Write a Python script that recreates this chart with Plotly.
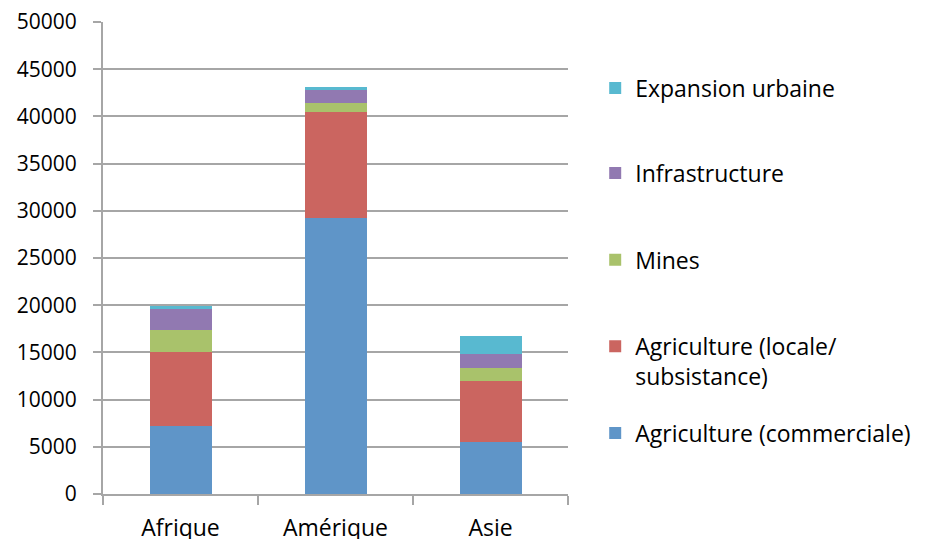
import plotly.graph_objects as go

categories = ["Afrique", "Amérique", "Asie"]
agri_commerciale = [7200, 29200, 5500]
agri_locale = [7870, 11300, 6450]
mines = [2300, 900, 1450]
infrastructure = [2230, 1440, 1410]
expansion_urbaine = [320, 250, 1980]

series_names = [
    "Agriculture (commerciale)",
    "Agriculture (locale/<br>subsistance)",
    "Mines",
    "Infrastructure",
    "Expansion urbaine",
]
series_values = [agri_commerciale, agri_locale, mines, infrastructure, expansion_urbaine]
colors = ["#5F95C8", "#CB6560", "#A9C26B", "#9179B1", "#58B9D0"]

y_ticks = list(range(0, 50001, 5000))
y_ticktext = [str(v) for v in y_ticks]

# one legend per series, stacked top-to-bottom like the original
legend_ids = ["legend5", "legend4", "legend3", "legend2", "legend"]
legend_y = [0.129, 0.281, 0.496, 0.680, 0.860]

font_family = "'Open Sans', sans-serif"

fig = go.Figure()
for name, vals, col, lid in zip(series_names, series_values, colors, legend_ids):
    fig.add_trace(go.Bar(
        x=categories, y=vals, name=name,
        marker=dict(color=col, line=dict(width=0)),
        width=0.4, legend=lid,
    ))

legend_common = dict(
    x=1.0585, xanchor="left", xref="paper",
    yanchor="middle", valign="top",
    font=dict(size=23, family=font_family, color="#000000"),
    itemwidth=30, bgcolor="rgba(0,0,0,0)",
)
layout_legends = {}
for lid, ly in zip(legend_ids, legend_y):
    layout_legends[lid] = dict(legend_common, y=ly)

fig.update_layout(
    barmode="stack",
    width=935, height=539,
    margin=dict(l=95, r=375, t=14, b=53, autoexpand=False),
    paper_bgcolor="white", plot_bgcolor="white",
    font=dict(family=font_family, size=22, color="#000000"),
    showlegend=True,
    **layout_legends,
)
fig.update_yaxes(
    range=[0, 50000], tickvals=y_ticks, ticktext=y_ticktext,
    showgrid=True, gridcolor="#A6A6A6", gridwidth=2,
    showline=True, linecolor="#A6A6A6", linewidth=2,
    ticks="outside", ticklen=8, tickcolor="#A6A6A6", tickwidth=2,
    zeroline=False, automargin=False, tickfont=dict(size=21),
    ticklabeloverflow="allow", ticklabelstandoff=12,
)
fig.update_xaxes(
    showline=True, linecolor="#A6A6A6", linewidth=2,
    ticks="outside", tickson="boundaries", ticklen=9, tickcolor="#A6A6A6", tickwidth=2,
    showgrid=False, automargin=False, ticklabelstandoff=12, tickfont=dict(size=23),
    ticklabeloverflow="allow",
)

fig.write_html("out.html")
